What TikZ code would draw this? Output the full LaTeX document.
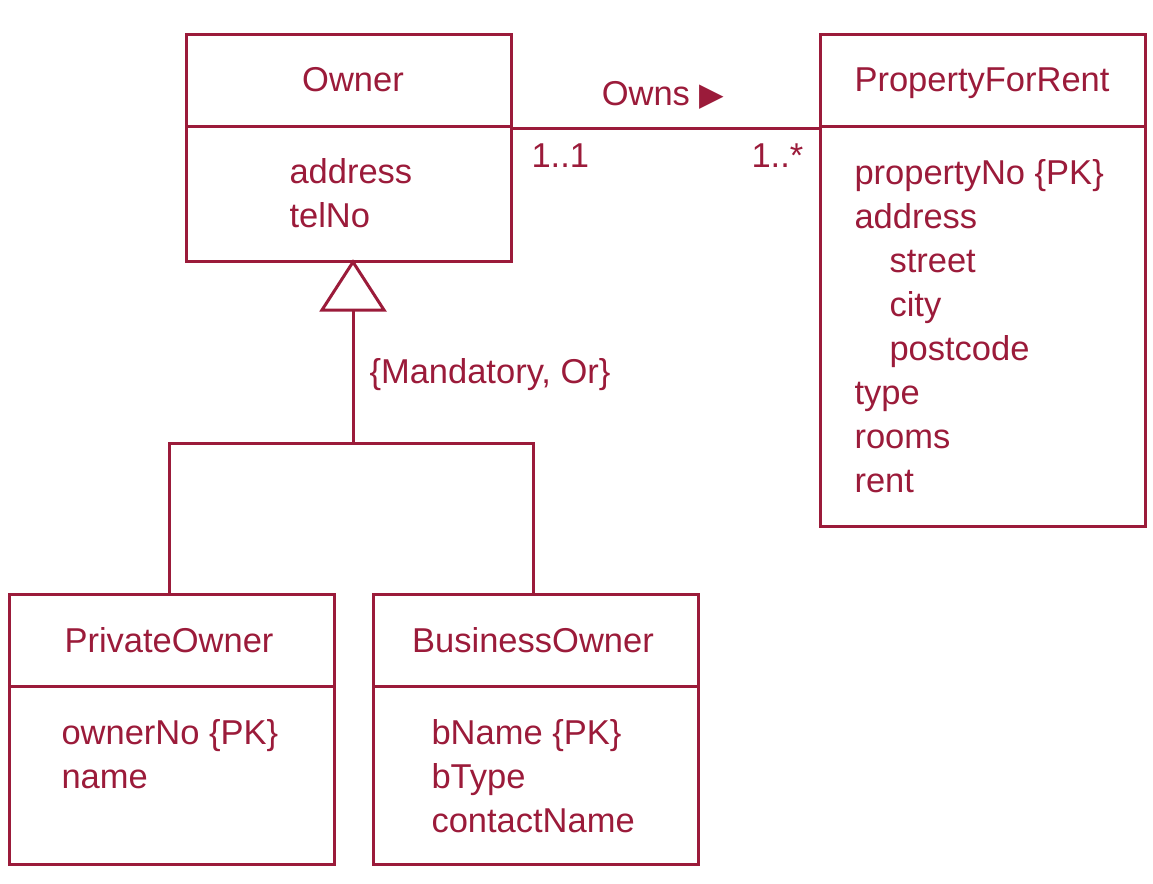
\documentclass[tikz,border=0pt]{standalone}
\usepackage{fontspec}
\setmainfont{Liberation Sans}
\newfontfamily\symfont{DejaVu Sans}
\definecolor{uml}{RGB}{155,27,58}
\begin{document}
\begin{tikzpicture}[x=1pt,y=-1pt,line width=3pt,
  every node/.style={text=uml,font=\fontsize{34.5}{44}\selectfont,inner sep=0pt},
  box/.style={draw=uml,anchor=north west},
  attr/.style={anchor=base west}]
\useasboundingbox (0,0) rectangle (1153,883);
% Owner
\node[box,minimum width=325pt,minimum height=92pt] (ownerH) at (185,33) {};
\node[box,minimum width=325pt,minimum height=135pt] (ownerB) at (185,125) {};
\node[anchor=base] (ownerT) at (353,92) {Owner};
\node[attr] (ownerA1) at (288,183) {address};
\node[attr] (ownerA2) at (288,227) {telNo};
% PropertyForRent
\node[box,minimum width=325pt,minimum height=92pt] (pfrH) at (819,33) {};
\node[box,minimum width=325pt,minimum height=400pt] (pfrB) at (819,125) {};
\node[anchor=base] (pfrT) at (982,92) {PropertyForRent};
\node[attr] (p1) at (853,184) {propertyNo \{PK\}};
\node[attr] (p2) at (853,228) {address};
\node[attr] (p3) at (888,272) {street};
\node[attr] (p4) at (888,316) {city};
\node[attr] (p5) at (888,360) {postcode};
\node[attr] (p6) at (853,404) {type};
\node[attr] (p7) at (853,448) {rooms};
\node[attr] (p8) at (853,492) {rent};
% PrivateOwner
\node[box,minimum width=325pt,minimum height=92pt] (privH) at (8,593) {};
\node[box,minimum width=325pt,minimum height=178pt] (privB) at (8,685) {};
\node[anchor=base] (privT) at (169,652) {PrivateOwner};
\node[attr] (q1) at (60,744) {ownerNo \{PK\}};
\node[attr] (q2) at (60,788) {name};
% BusinessOwner
\node[box,minimum width=325pt,minimum height=92pt] (busH) at (372,593) {};
\node[box,minimum width=325pt,minimum height=178pt] (busB) at (372,685) {};
\node[anchor=base] (busT) at (533,652) {BusinessOwner};
\node[attr] (b1) at (430,744) {bName \{PK\}};
\node[attr] (b2) at (430,788) {bType};
\node[attr] (b3) at (430,832) {contactName};
% association
\draw[uml] (ownerH.south east) -- (pfrH.south west);
\node[anchor=base] (owns) at (663,105) {Owns {\symfont\fontsize{32}{36}\selectfont ▶}};
\node[attr] (m1) at (530,167) {1..1};
\node[attr] (m2) at (750,167) {1..*};
% generalization
\coordinate (apex) at (353,262);
\coordinate (tribase) at (353,310);
\coordinate (junc) at (353,443);
\coordinate (privTop) at ([xshift=-2.5pt]privH.north);
\coordinate (busTop) at ([xshift=-2.5pt]busH.north);
\draw[uml,fill=white,line join=miter] (apex) -- (322,310) -- (384,310) -- cycle;
\draw[uml] (tribase) -- (junc);
\draw[uml] (privTop) |- (junc) -| (busTop);
\node[attr] (constr) at (368,383) {\{Mandatory, Or\}};
\end{tikzpicture}
\end{document}
